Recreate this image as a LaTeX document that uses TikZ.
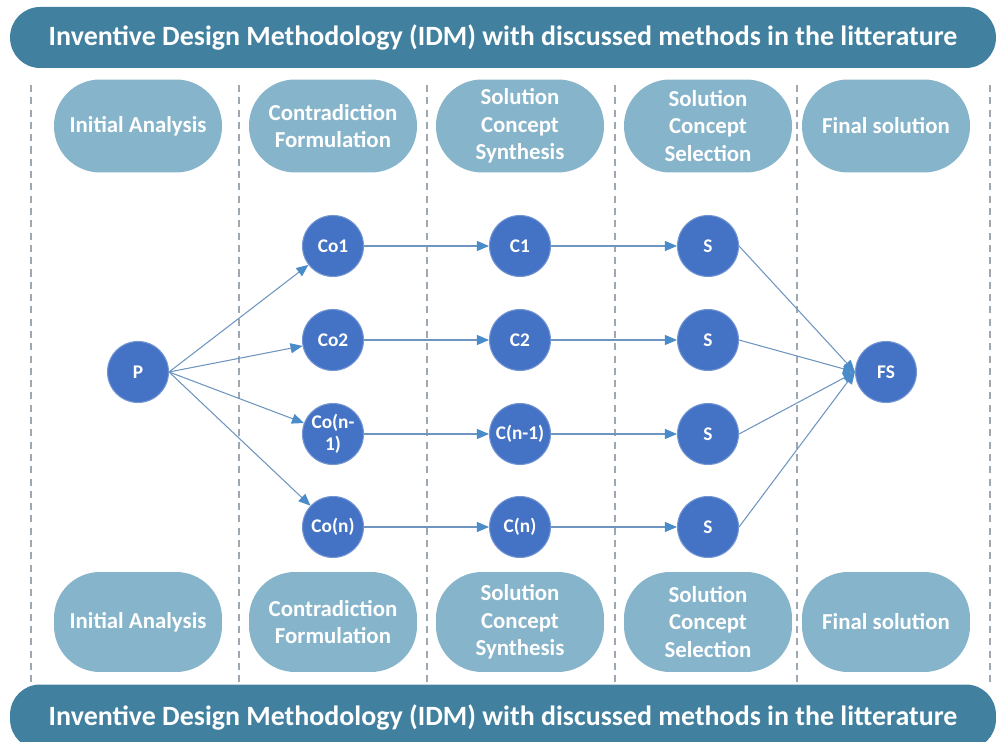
\documentclass[tikz,border=0pt]{standalone}
\usepackage{fontspec}
\setmainfont{Carlito}
\usetikzlibrary{arrows.meta}

\definecolor{bannerblue}{HTML}{41809F}
\definecolor{stagefill}{HTML}{86B4CB}
\definecolor{circblue}{HTML}{4472C4}
\definecolor{linkblue}{HTML}{6D95BF}
\definecolor{tipblue}{HTML}{4A8BC9}
\definecolor{dashgrey}{HTML}{9DA8B3}

\tikzset{
  banner/.style={fill=bannerblue, rounded corners=0.6cm, minimum width=19.72cm,
    minimum height=1.22cm, text=white, font=\bfseries\fontsize{15.9}{18}\selectfont},
  stagebox/.style={fill=stagefill, rounded corners=0.92cm, minimum width=3.36cm,
    minimum height=1.86cm, text=white, align=center,
    font=\bfseries\fontsize{13}{15.6}\selectfont},
  stepnode/.style={circle, fill=circblue, draw=circblue!75!white, line width=0.6pt,
    minimum size=1.22cm, inner sep=0pt, text=white, align=center,
    font=\bfseries\fontsize{11}{12.5}\selectfont},
  flowarrow/.style={draw=linkblue, line width=0.6pt,
    -{Triangle[length=0.24cm, width=0.2cm, fill=tipblue, color=tipblue]}},
  laneline/.style={draw=dashgrey, line width=0.6pt, dash pattern=on 4pt off 3pt}
}

\begin{document}
\begin{tikzpicture}[x=0.02cm, y=-0.02cm]
    % Define the columns and rows (in pixels)
    \def\colP{138}  % initial analysis
    \def\colCo{333} % contradiction formulation
    \def\colC{520}  % concept synthesis
    \def\colS{708}  % concept selection
    \def\colF{886}  % final solution
    \def\rowa{246}
    \def\rowb{340}
    \def\rowc{434}
    \def\rowd{527}

    \useasboundingbox (0,0) rectangle (997,742);

    % Draw lane separators
    \draw[laneline] (31,85) -- (31,682);
    \draw[laneline] (239,85) -- (239,682);
    \draw[laneline] (427,85) -- (427,682);
    \draw[laneline] (615,85) -- (615,682);
    \draw[laneline] (797,85) -- (797,682);
    \draw[laneline] (990,85) -- (990,682);

    % Draw banners
    \node[banner] (topbar) at (503,37.5) {Inventive Design Methodology (IDM) with discussed methods in the litterature};
    \node[banner, minimum height=1.3cm] (botbar) at (503,717) {Inventive Design Methodology (IDM) with discussed methods in the litterature};

    % Draw stage boxes (top)
    \node[stagebox] (iatop) at (\colP,126) {Initial Analysis};
    \node[stagebox] (cftop) at (\colCo,126) {Contradiction\\Formulation};
    \node[stagebox] (sstop) at (\colC,126) {Solution\\Concept\\Synthesis};
    \node[stagebox] (sltop) at (\colS,126) {Solution\\Concept\\Selection};
    \node[stagebox] (fstop) at (\colF,126) {Final solution};

    % Draw stage boxes (bottom)
    \node[stagebox, minimum height=2cm] (iabot) at (\colP,622) {Initial Analysis};
    \node[stagebox, minimum height=2cm] (cfbot) at (\colCo,622) {Contradiction\\Formulation};
    \node[stagebox, minimum height=2cm] (ssbot) at (\colC,622) {Solution\\Concept\\Synthesis};
    \node[stagebox, minimum height=2cm] (slbot) at (\colS,622) {Solution\\Concept\\Selection};
    \node[stagebox, minimum height=2cm] (fsbot) at (\colF,622) {Final solution};

    % Draw the steps
    \node[stepnode] (P) at (\colP,372) {P};
    \node[stepnode] (co1) at (\colCo,\rowa) {Co1};
    \node[stepnode] (co2) at (\colCo,\rowb) {Co2};
    \node[stepnode] (con1) at (\colCo,\rowc) {Co(n-\\1)};
    \node[stepnode] (con) at (\colCo,\rowd) {Co(n)};
    \node[stepnode] (c1) at (\colC,\rowa) {C1};
    \node[stepnode] (c2) at (\colC,\rowb) {C2};
    \node[stepnode] (cn1) at (\colC,\rowc) {C(n-1)};
    \node[stepnode] (cn) at (\colC,\rowd) {C(n)};
    \node[stepnode] (s1) at (\colS,\rowa) {S};
    \node[stepnode] (s2) at (\colS,\rowb) {S};
    \node[stepnode] (s3) at (\colS,\rowc) {S};
    \node[stepnode] (s4) at (\colS,\rowd) {S};
    \node[stepnode] (FS) at (\colF,372) {FS};

    % Draw the flows
    \draw[flowarrow] (P.east) -- (co1);
    \draw[flowarrow] (P.east) -- (co2);
    \draw[flowarrow] (P.east) -- (con1);
    \draw[flowarrow] (P.east) -- (con);
    \draw[flowarrow] (co1) -- (c1);
    \draw[flowarrow] (co2) -- (c2);
    \draw[flowarrow] (con1) -- (cn1);
    \draw[flowarrow] (con) -- (cn);
    \draw[flowarrow] (c1) -- (s1);
    \draw[flowarrow] (c2) -- (s2);
    \draw[flowarrow] (cn1) -- (s3);
    \draw[flowarrow] (cn) -- (s4);
    \draw[flowarrow] (s1.east) -- (FS.west);
    \draw[flowarrow] (s2.east) -- (FS.west);
    \draw[flowarrow] (s3.east) -- (FS.west);
    \draw[flowarrow] (s4.east) -- (FS.west);
\end{tikzpicture}
\end{document}
